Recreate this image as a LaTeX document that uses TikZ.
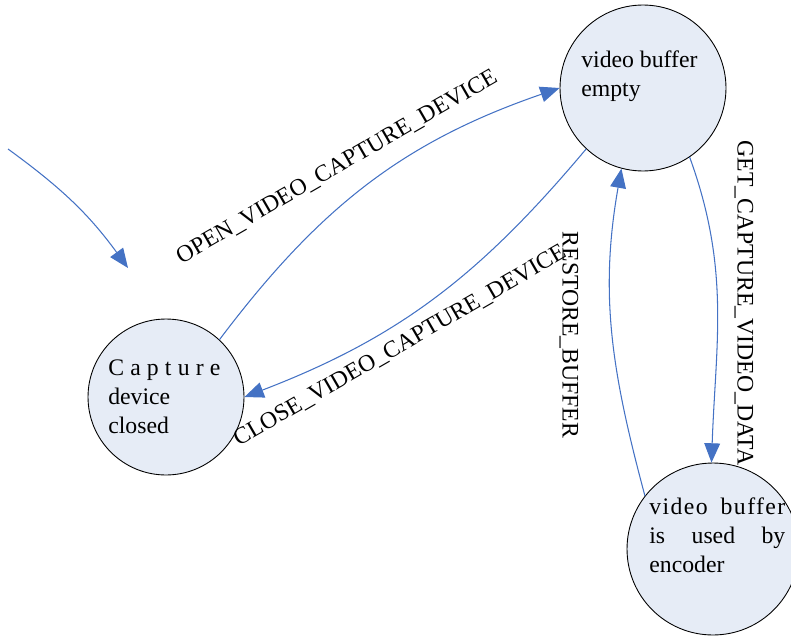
\documentclass[tikz,border=0pt]{standalone}
\usepackage{fontspec}
\setmainfont{Liberation Serif}
\usetikzlibrary{arrows.meta, calc}
\definecolor{statefill}{RGB}{230,236,246}
\definecolor{arrowblue}{RGB}{68,114,196}
\newcommand\spreadline[2]{\leavevmode\hbox to #1{#2}}

\begin{document}
\begin{tikzpicture}[x=0.02cm, y=0.02cm, >={Triangle[length=11pt, width=9pt]},
		stat/.style={circle, draw=black, fill=statefill, line width=0.5pt, minimum size=#1, inner sep=0pt},
		txt/.style={font=\fontsize{13.5}{16.5}\selectfont, inner sep=0pt, align=left},
		trans/.style={->, draw=arrowblue, line width=0.6pt}]
		\useasboundingbox (0,0) rectangle (791,637);
		% the three states
		\node[stat=3.32cm] (empty) at (643,549) {};
		\node[stat=3.12cm] (closed) at (166,240) {};
		\node[stat=3.44cm] (used) at (713,88) {};
		\node[txt, anchor=north west] (emptytxt) at (581,587) {video buffer\\empty};
		\node[txt, anchor=north west, text width=2.24cm] (closedtxt) at (108,278)
			{\spreadline{2.24cm}{C\hfil a\hfil p\hfil t\hfil u\hfil r\hfil e}\\device\\closed};
		\node[txt, anchor=north west, text width=2.72cm] (usedtxt) at (649,140)
			{\spreadline{2.72cm}{\addfontfeature{LetterSpace=6}video\hfil buffer}\\\spreadline{2.72cm}{is\hfil used\hfil by}\\encoder};
		% initial arrow
		\coordinate (start) at (8,488);
		\coordinate (init) at (128,369);
		\draw[trans] (start) to[out=-36, in=126] (init);
		% transitions
		\draw[trans] (closed.47) to[out=53, in=-161] (empty.180);
		\draw[trans] (empty.227) to[out=230, in=21] (closed.0);
		\draw[trans] (empty.-56) to[out=-70, in=88] (used.91);
		\draw[trans] (used.142) to[out=105, in=-100] (empty.-105);
		\node[txt, rotate=30] (openlbl) at (337,470) {OPEN\_VIDEO\_CAPTURE\_DEVICE};
		\node[txt, rotate=30] (closelbl) at (400,291) {CLOSE\_VIDEO\_CAPTURE\_DEVICE};
		\node[txt, rotate=-90] (restorelbl) at (569,302) {RESTORE\_BUFFER};
		\node[txt, rotate=-90] (getlbl) at (744,334) {GET\_CAPTURE\_VIDEO\_DATA};
	\end{tikzpicture}
\end{document}
